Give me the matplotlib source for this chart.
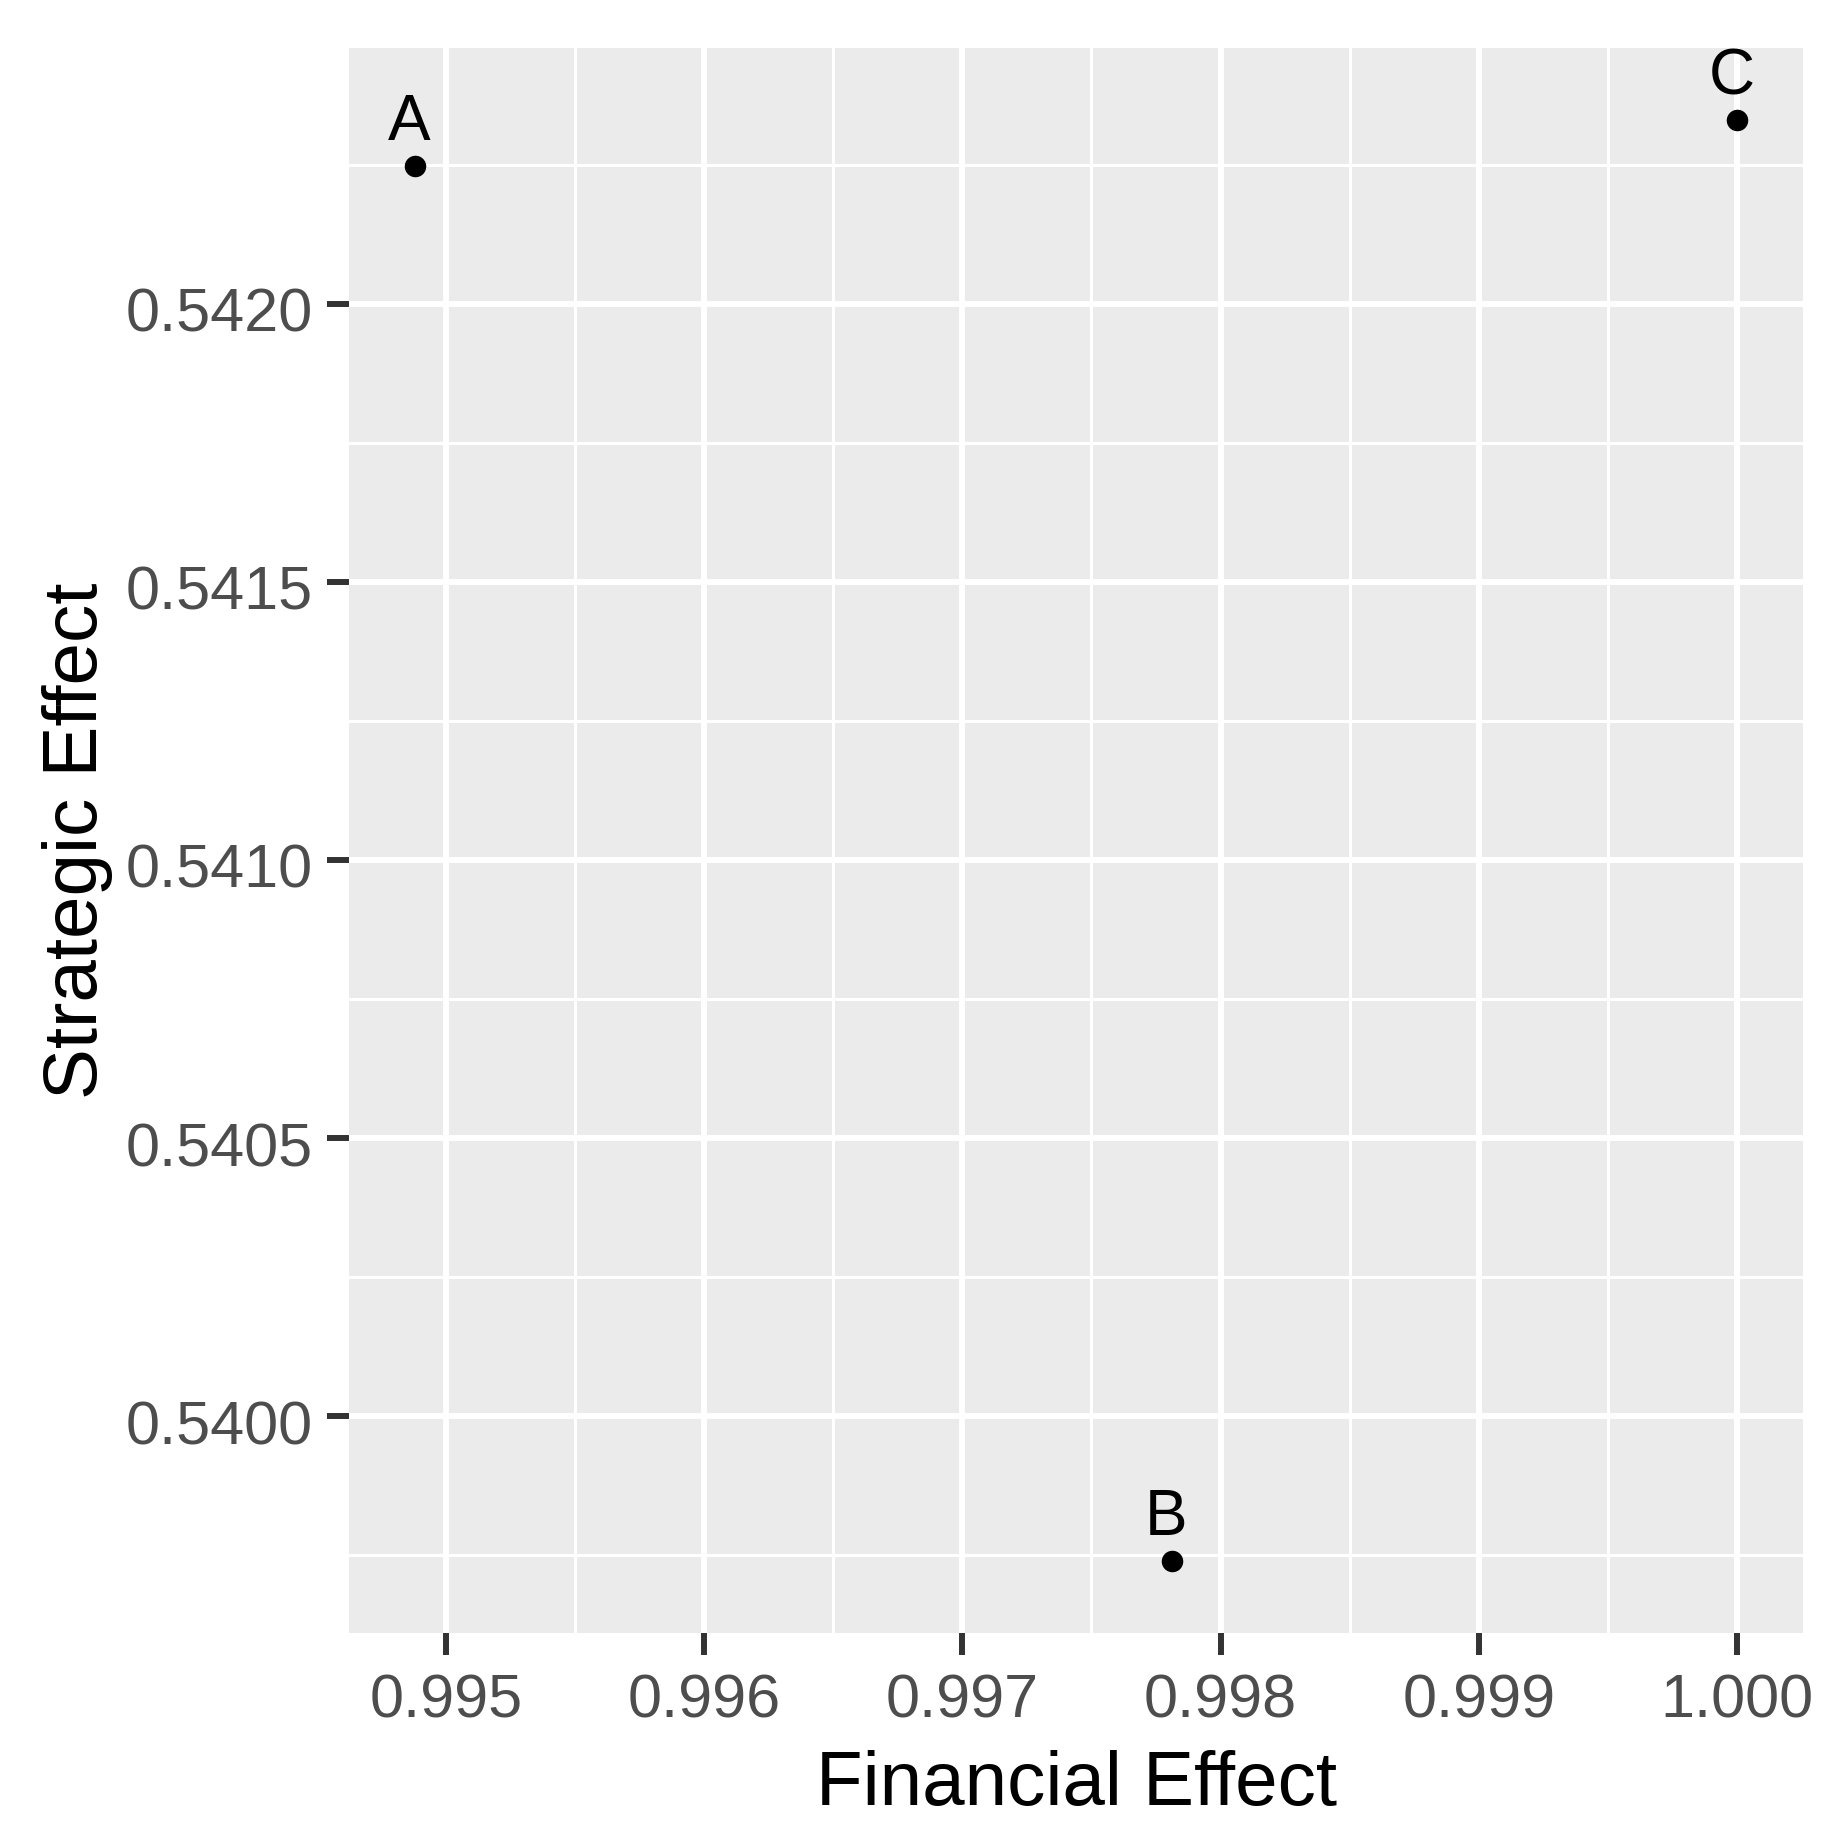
import matplotlib
matplotlib.use("Agg")
import matplotlib.pyplot as plt
from matplotlib.ticker import MultipleLocator, FormatStrFormatter
from matplotlib.transforms import ScaledTranslation

labels = ["A", "B", "C"]
financial = [0.99488, 0.99781, 1.00000]
strategic = [0.542248, 0.53974, 0.54233]

plt.rcParams['font.family'] = ['Liberation Sans', 'DejaVu Sans']

W, H = 1839, 1844
fig = plt.figure(figsize=(W / 100, H / 100), dpi=100)
ax = fig.add_axes([349 / W, 1 - 1633 / H, (1803 - 349) / W, (1633 - 48) / H])
ax.set_facecolor('#EBEBEB')
for s in ax.spines.values():
    s.set_visible(False)

ax.scatter(financial, strategic, s=240, color='black', zorder=3, linewidths=0)

def expand(vals, f=0.05):
    lo, hi = min(vals), max(vals)
    d = (hi - lo) * f
    return lo - d, hi + d

ax.set_xlim(*expand(financial))
ax.set_ylim(*expand(strategic))

for lab, x, y in zip(labels, financial, strategic):
    ax.annotate(lab, (x, y), xytext=(-4, 18.5), textcoords='offset points',
                ha='center', va='baseline', fontsize=46, color='black', zorder=4)

ax.xaxis.set_major_locator(MultipleLocator(0.001))
ax.xaxis.set_minor_locator(MultipleLocator(0.0005))
ax.yaxis.set_major_locator(MultipleLocator(0.0005))
ax.yaxis.set_minor_locator(MultipleLocator(0.00025))
ax.xaxis.set_major_formatter(FormatStrFormatter('%.3f'))
ax.yaxis.set_major_formatter(FormatStrFormatter('%.4f'))

ax.grid(which='major', color='white', linewidth=4.3, zorder=0)
ax.grid(which='minor', color='white', linewidth=2.2, zorder=0)
ax.set_axisbelow(True)

ax.tick_params(which='major', length=16, width=4.3, color='#333333',
               labelcolor='#4D4D4D', labelsize=44)
ax.tick_params(axis='y', which='major', pad=10)
ax.tick_params(axis='x', which='major', pad=13)
ax.tick_params(which='minor', length=0)

off = ScaledTranslation(0, -6 / 100, fig.dpi_scale_trans)
for t in ax.yaxis.get_major_ticks():
    t.label1.set_transform(t.label1.get_transform() + off)

ax.set_xlabel('Financial Effect', fontsize=55, color='black', va='center')
ax.set_ylabel('Strategic Effect', fontsize=55, color='black', va='center')
ax.xaxis.set_label_coords(0.5, -(1785 - 1633) / (1633 - 48))
ax.yaxis.set_label_coords(-(349 - 78) / (1803 - 349), 0.5)

fig.savefig('out.png', dpi=100, facecolor='white')
